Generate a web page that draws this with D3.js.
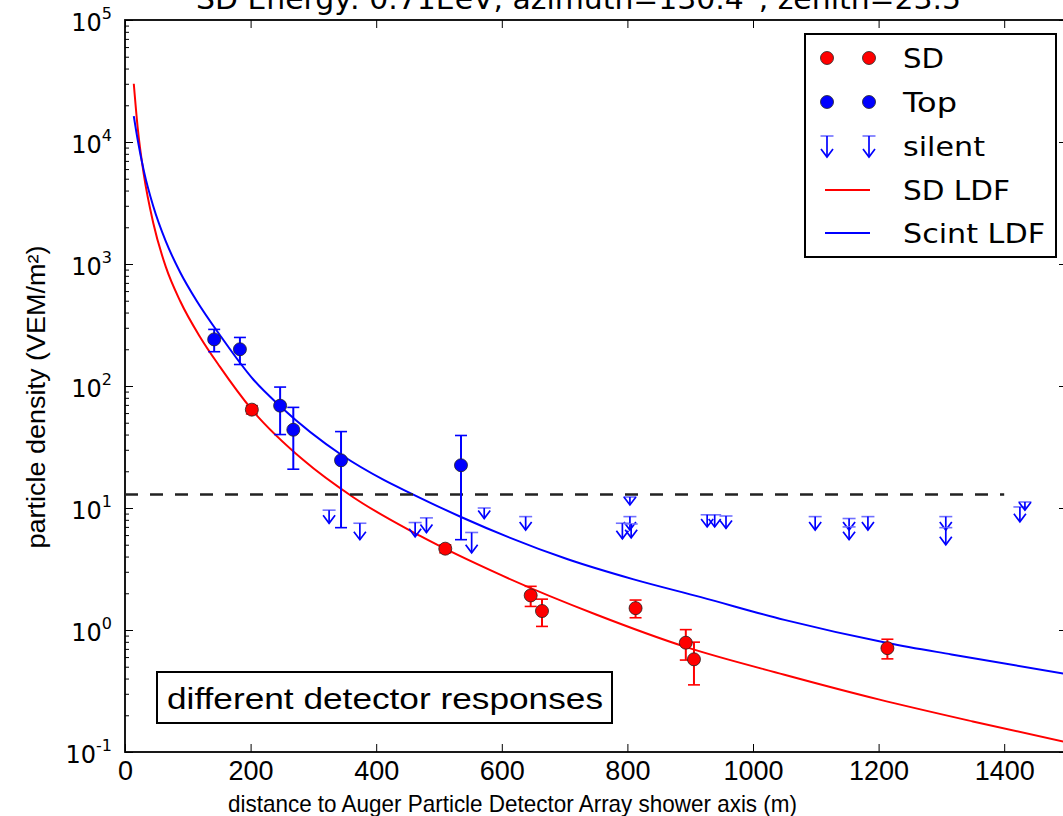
<!DOCTYPE html>
<html><head><meta charset="utf-8">
<script src="https://cdn.jsdelivr.net/npm/d3@7"></script>
<style>body{margin:0;background:#fff}svg{display:block}</style>
</head><body>
<svg id="chart" width="1063" height="816"></svg>
<script>
// ---------- data ----------
const titleText = "SD Energy: 0.71EeV, azimuth=130.4°, zenith=23.5°";
const xTickValues = [0, 200, 400, 600, 800, 1000, 1200, 1400];
const yTickExponents = [-1, 0, 1, 2, 3, 4, 5];

const sdDist = [202, 510, 646, 664, 813, 893, 906, 1214];
const sdVal  = [64, 4.64, 1.92, 1.43, 1.51, 0.787, 0.575, 0.71];
const sdErr  = [5, 0.35, 0.36, 0.36, 0.25, 0.22, 0.22, 0.13];

const topDist = [142, 183, 247, 268, 344, 535];
const topVal  = [241, 200, 69, 43.8, 24.6, 22.4];
const topErr  = [50, 50, 29, 23, 17.7, 16.9];

const silentDist  = [325, 374, 462, 480, 552, 572, 638, 804, 804, 806, 792, 927, 939, 957, 1099, 1153, 1153, 1183, 1307, 1307, 1425, 1433];
const silentUpper = [9.6, 7.5, 7.6, 8.3, 6.3, 10.0, 8.5, 12.3, 8.5, 7.4, 7.5, 8.8, 8.8, 8.6, 8.5, 8.2, 7.0, 8.5, 8.5, 6.9, 10.2, 11.2];
const silentLower = [7.5, 5.5, 5.8, 6.3, 4.3, 8.2, 6.6, 10.6, 6.6, 5.7, 5.6, 7.0, 7.0, 6.8, 6.6, 6.6, 5.5, 6.6, 6.6, 5.0, 7.7, 9.6];

const sdLdfDist = [14, 20, 30, 45, 65, 88, 120, 151, 202, 284, 364, 470, 600, 750, 895, 1050, 1200, 1350, 1500];
const sdLdfVal  = [30000, 13400, 5400, 2170, 946, 495, 250, 144, 64, 24.7, 12.2, 5.9, 2.8, 1.34, 0.72, 0.43, 0.27, 0.178, 0.12];

const scintLdfDist = [14, 20, 30, 45, 65, 88, 114, 151, 205, 248, 345, 412, 455, 536, 705, 810, 917, 1050, 1216, 1316, 1500];
const scintLdfVal  = [16300, 10550, 5800, 2970, 1530, 853, 500, 262, 112, 67.6, 27.2, 17.0, 13.2, 8.4, 3.8, 2.6, 1.86, 1.21, 0.78, 0.63, 0.435];

const thresholdVal = 12.9;
const thresholdRange = [0, 1400];

const legendLabels = ["SD", "Top", "silent", "SD LDF", "Scint LDF"];
const annotationText = "different detector responses";
const xLabel = "distance to Auger Particle Detector Array shower axis (m)";
const yLabel = "particle density (VEM/m²)";

// ---------- layout ----------
const L = 125, T = 20, B = 752, R = 1067;
const RED = "#ff0000", BLUE = "#0000ff";
const svg = d3.select("#chart");
const x = d3.scaleLinear().domain([0, 1500]).range([L, R]);
const y = d3.scaleLog().domain([0.1, 1e5]).range([B, T]);

svg.append("defs").append("clipPath").attr("id", "clip")
  .append("rect").attr("x", L).attr("y", T).attr("width", R - L).attr("height", B - T);

// title (clipped at top of image, as in the reference)
svg.append("text").attr("x", 586).attr("y", 9).attr("text-anchor", "middle")
  .attr("font-family", "DejaVu Sans").attr("font-size", 28)
  .attr("textLength", 780).attr("lengthAdjust", "spacingAndGlyphs")
  .text(titleText);

// axes
const axB = svg.append("g").attr("transform", `translate(0,${B})`)
  .call(d3.axisBottom(x).tickValues(xTickValues).tickSize(-8).tickPadding(9).tickFormat(d3.format("d")));
svg.append("g").attr("transform", `translate(0,${T})`)
  .call(d3.axisTop(x).tickValues(xTickValues).tickSize(-8).tickFormat(""));
const majorY = yTickExponents.map(e => Math.pow(10, e));
const minorY = [];
yTickExponents.slice(0, -1).forEach(e => { for (let k = 2; k <= 9; k++) minorY.push(k * Math.pow(10, e)); });
const axL = svg.append("g").attr("transform", `translate(${L},0)`)
  .call(d3.axisLeft(y).tickValues(majorY).tickSize(-8).tickPadding(12).tickFormat(""));
svg.append("g").attr("transform", `translate(${L},0)`)
  .call(d3.axisLeft(y).tickValues(minorY).tickSize(-4).tickFormat(""));
svg.append("g").attr("transform", `translate(${R},0)`)
  .call(d3.axisRight(y).tickValues(majorY).tickSize(-8).tickFormat(""));
svg.selectAll(".domain").remove();
svg.selectAll(".tick line").attr("stroke", "#000").attr("stroke-width", 1);

axB.selectAll(".tick text").attr("font-family", "Liberation Sans Narrow, Liberation Sans")
  .attr("font-size", 27).attr("fill", "#000");

// y tick labels with superscripts
axL.selectAll(".tick").each(function(d) {
  const e = Math.round(Math.log10(d));
  const t = d3.select(this).select("text")
    .attr("font-family", "DejaVu Sans").attr("font-size", 24).attr("fill", "#000")
    .attr("x", -13).attr("dy", "0.45em").attr("text-anchor", "end");
  t.append("tspan").text("10");
  t.append("tspan").attr("font-size", 16).attr("dy", "-0.75em").text(String(e));
});

// frame
svg.append("rect").attr("x", L).attr("y", T).attr("width", R - L).attr("height", B - T)
  .attr("fill", "none").attr("stroke", "#000").attr("stroke-width", 1.8);

// axis labels
svg.append("text").attr("x", 228).attr("y", 812)
  .attr("font-family", "Liberation Sans Narrow, Liberation Sans").attr("font-size", 24)
  .attr("textLength", 569).attr("lengthAdjust", "spacingAndGlyphs").text(xLabel);
svg.append("text").attr("transform", "translate(45,397) rotate(-90)").attr("text-anchor", "middle")
  .attr("font-family", "Liberation Sans Narrow, Liberation Sans").attr("font-size", 26)
  .attr("textLength", 303).attr("lengthAdjust", "spacingAndGlyphs").text(yLabel);

const plot = svg.append("g").attr("clip-path", "url(#clip)");

// LDF curves
const line = d3.line().x(d => x(d[0])).y(d => y(d[1])).curve(d3.curveMonotoneX);
plot.append("path").datum(d3.zip(sdLdfDist, sdLdfVal)).attr("d", line)
  .attr("fill", "none").attr("stroke", RED).attr("stroke-width", 2);
plot.append("path").datum(d3.zip(scintLdfDist, scintLdfVal)).attr("d", line)
  .attr("fill", "none").attr("stroke", BLUE).attr("stroke-width", 2);

// threshold dashed line
plot.append("line").attr("x1", x(thresholdRange[0])).attr("x2", x(thresholdRange[1]))
  .attr("y1", y(thresholdVal)).attr("y2", y(thresholdVal))
  .attr("stroke", "#222").attr("stroke-width", 2.5).attr("stroke-dasharray", "13,12");

// silent markers
function silentMarker(g, px, pyTop, pyBot) {
  g.append("line").attr("x1", px - 6.5).attr("x2", px + 6.5).attr("y1", pyTop).attr("y2", pyTop)
    .attr("stroke", "#7070ff").attr("stroke-width", 1.6);
  g.append("line").attr("x1", px).attr("x2", px).attr("y1", pyTop).attr("y2", pyBot)
    .attr("stroke", BLUE).attr("stroke-width", 1.7);
  g.append("path").attr("d", `M${px - 6},${pyBot - 8}L${px},${pyBot}L${px + 6},${pyBot - 8}`)
    .attr("fill", "none").attr("stroke", BLUE).attr("stroke-width", 1.7);
}
const sg = plot.append("g");
silentDist.forEach((d, i) => silentMarker(sg, x(d), y(silentUpper[i]), y(silentLower[i])));

// error bars + points
function errPoints(dist, val, err, color) {
  const g = plot.append("g");
  dist.forEach((d, i) => {
    const px = x(d), y1 = y(val[i] + err[i]), y2 = y(Math.max(val[i] - err[i], 0.011));
    g.append("line").attr("x1", px).attr("x2", px).attr("y1", y1).attr("y2", y2)
      .attr("stroke", color).attr("stroke-width", 2);
    [y1, y2].forEach(yy => g.append("line").attr("x1", px - 6).attr("x2", px + 6)
      .attr("y1", yy).attr("y2", yy).attr("stroke", color).attr("stroke-width", 1.6));
  });
  g.selectAll("circle").data(dist).join("circle")
    .attr("cx", d => x(d)).attr("cy", (d, i) => y(val[i])).attr("r", 6.5)
    .attr("fill", color).attr("stroke", "#222").attr("stroke-width", 0.8);
}
errPoints(topDist, topVal, topErr, BLUE);
errPoints(sdDist, sdVal, sdErr, RED);

// annotation box
svg.append("rect").attr("x", 157).attr("y", 672).attr("width", 455).attr("height", 51)
  .attr("fill", "#fff").attr("stroke", "#000").attr("stroke-width", 2);
svg.append("text").attr("x", 167).attr("y", 709).attr("font-family", "Liberation Sans")
  .attr("font-size", 30).attr("textLength", 436).attr("lengthAdjust", "spacingAndGlyphs")
  .text(annotationText);

// legend
const lg = svg.append("g");
lg.append("rect").attr("x", 805).attr("y", 34).attr("width", 251).attr("height", 223)
  .attr("fill", "#fff").attr("stroke", "#000").attr("stroke-width", 2);
const rowY = [58, 102, 146, 190, 233];
const mx = [827, 869];
const textWidths = [41, 54, 82, 107, 142];
mx.forEach(m => {
  lg.append("circle").attr("cx", m).attr("cy", rowY[0]).attr("r", 6.5).attr("fill", RED).attr("stroke", "#222").attr("stroke-width", 0.8);
  lg.append("circle").attr("cx", m).attr("cy", rowY[1]).attr("r", 6.5).attr("fill", BLUE).attr("stroke", "#222").attr("stroke-width", 0.8);
  silentMarker(lg, m, rowY[2] - 10, rowY[2] + 11);
});
lg.append("line").attr("x1", 825).attr("x2", 870).attr("y1", rowY[3]).attr("y2", rowY[3]).attr("stroke", RED).attr("stroke-width", 2);
lg.append("line").attr("x1", 825).attr("x2", 870).attr("y1", rowY[4]).attr("y2", rowY[4]).attr("stroke", BLUE).attr("stroke-width", 2);
legendLabels.forEach((t, i) => {
  lg.append("text").attr("x", 903).attr("y", rowY[i] + 10).attr("font-family", "DejaVu Sans")
    .attr("font-size", 27).attr("textLength", textWidths[i]).attr("lengthAdjust", "spacingAndGlyphs").text(t);
});
</script>
</body></html>
